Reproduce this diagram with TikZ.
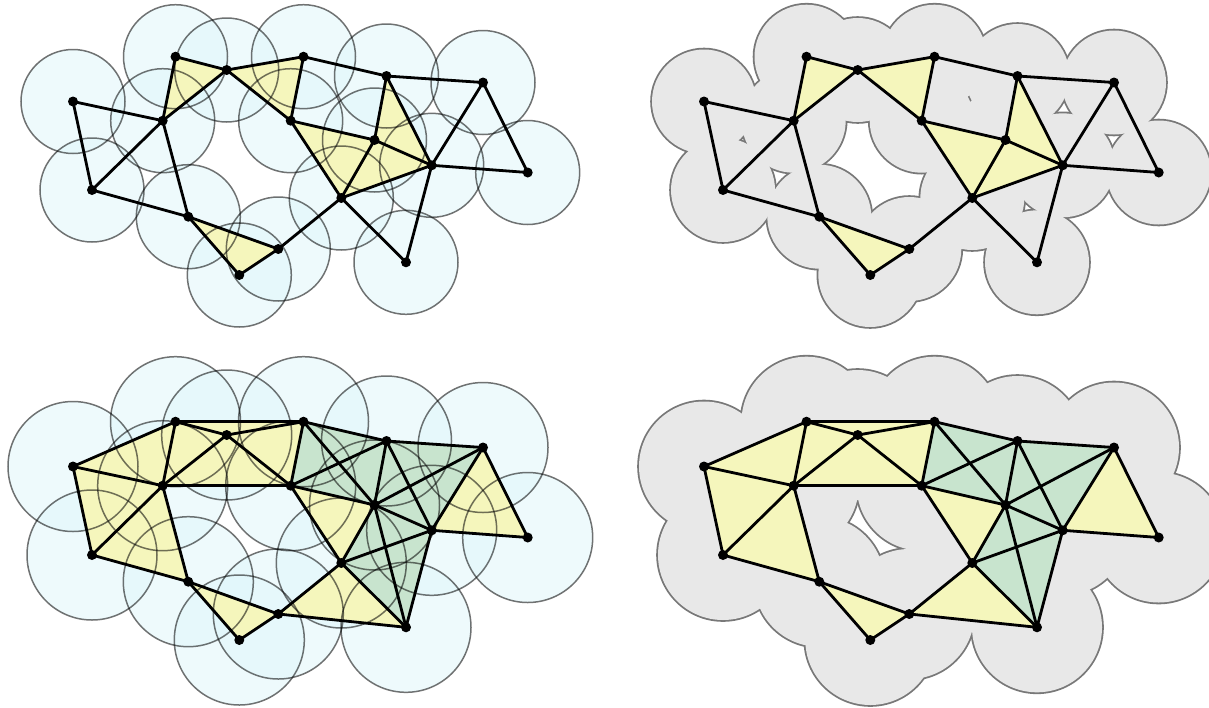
\documentclass[tikz,border=0pt]{standalone}
\definecolor{ballfill}{RGB}{222,246,250}
\definecolor{yel}{RGB}{245,246,188}
\definecolor{grn}{RGB}{200,228,206}
\definecolor{unionfill}{RGB}{232,232,232}
\definecolor{unionline}{RGB}{120,120,120}
\tikzset{
  dot/.style={circle,fill=black,inner sep=0pt,minimum size=10pt},
  edge/.style={line width=2.8pt,black,line cap=round},
  ballbody/.style={fill=ballfill,fill opacity=0.5},
  ballline/.style={draw=black,draw opacity=0.55,line width=1.5pt},
  unionedge/.style={draw=unionline,line width=3.6pt},
  unionbody/.style={fill=unionfill},
}
\newcommand\ptlist{A/73/101.5,B/175.5/56.7,C/226.7/70,D/303.5/56.7,E/162.7/120.7,F/290.7/120.7,G/386.5/76,H/483/82.5,I/374.5/140,J/431.7/165.3,K/527.7/172.5,L/92/190,M/341.3/198,N/188.3/216.7,O/278.3/249,P/239.3/275,Q/406/262.3}
\newcommand\names{A,B,C,D,E,F,G,H,I,J,K,L,M,N,O,P,Q}
\newcommand\smalledges{A/E,A/L,E/L,B/C,B/E,C/E,C/D,C/F,D/F,D/G,G/H,G/I,G/J,H/J,H/K,J/K,F/I,F/M,I/J,I/M,J/M,J/Q,M/Q,M/O,E/N,L/N,N/O,N/P,O/P}
\newcommand\bigedges{A/B,A/E,A/L,B/C,B/D,B/E,C/D,C/E,C/F,D/F,E/F,E/L,E/N,L/N,D/G,D/I,F/G,F/I,F/M,G/H,G/I,G/J,H/I,H/J,H/K,I/J,I/M,I/Q,J/K,J/M,J/Q,M/Q,M/O,O/Q,N/O,N/P,O/P}
\newcommand\smalltris{B/C/E,C/D/F,F/I/M,I/J/M,G/I/J,N/O/P}
\newcommand\mkpts[3]{\foreach \n/\x/\y in \ptlist {\coordinate (#1\n) at ({\x+#2},{\y+#3});}}
\newcommand\bigfaces[1]{%
  \fill[yel] (#1A) -- (#1B) -- (#1D) -- (#1F) -- (#1E) -- (#1N) -- (#1L) -- cycle;
  \foreach \a/\b/\c in {H/J/K,F/I/M,M/O/Q,N/O/P} {\fill[yel] (#1\a) -- (#1\b) -- (#1\c) -- cycle;}
  \fill[grn] (#1D) -- (#1G) -- (#1H) -- (#1J) -- (#1Q) -- (#1M) -- (#1I) -- (#1F) -- cycle;
}
\begin{document}
\begin{tikzpicture}[x=1pt,y=-1pt]
\useasboundingbox (0,0) rectangle (1209,707);
% ---------- top left: balls of radius 52 and their complex
\mkpts{tl}{0}{0}
\foreach \n in \names {\fill[ballbody] (tl\n) circle[radius=52pt];}
\foreach \a/\b/\c in \smalltris {\fill[yel] (tl\a) -- (tl\b) -- (tl\c) -- cycle;}
\foreach \n in \names {\draw[ballline] (tl\n) circle[radius=52pt];}
\foreach \a/\b in \smalledges {\draw[edge] (tl\a) -- (tl\b);}
\foreach \n in \names {\node[dot] (tl\n d) at (tl\n) {};}
% ---------- top right: union of balls
\mkpts{tr}{631}{0}
\foreach \n in \names {\draw[unionedge] (tr\n) circle[radius=52pt];}
\foreach \n in \names {\fill[unionbody] (tr\n) circle[radius=52pt];}
\foreach \a/\b/\c in \smalltris {\fill[yel] (tr\a) -- (tr\b) -- (tr\c) -- cycle;}
\foreach \a/\b in \smalledges {\draw[edge] (tr\a) -- (tr\b);}
\foreach \n in \names {\node[dot] (tr\n d) at (tr\n) {};}
% ---------- bottom left: balls of radius 65
\mkpts{bl}{0}{365}
\foreach \n in \names {\fill[ballbody] (bl\n) circle[radius=65pt];}
\bigfaces{bl}
\foreach \n in \names {\draw[ballline] (bl\n) circle[radius=65pt];}
\foreach \a/\b in \bigedges {\draw[edge] (bl\a) -- (bl\b);}
\foreach \n in \names {\node[dot] (bl\n d) at (bl\n) {};}
% ---------- bottom right: union of balls
\mkpts{br}{631}{365}
\foreach \n in \names {\draw[unionedge] (br\n) circle[radius=65pt];}
\foreach \n in \names {\fill[unionbody] (br\n) circle[radius=65pt];}
\bigfaces{br}
\foreach \a/\b in \bigedges {\draw[edge] (br\a) -- (br\b);}
\foreach \n in \names {\node[dot] (br\n d) at (br\n) {};}
\end{tikzpicture}
\end{document}
